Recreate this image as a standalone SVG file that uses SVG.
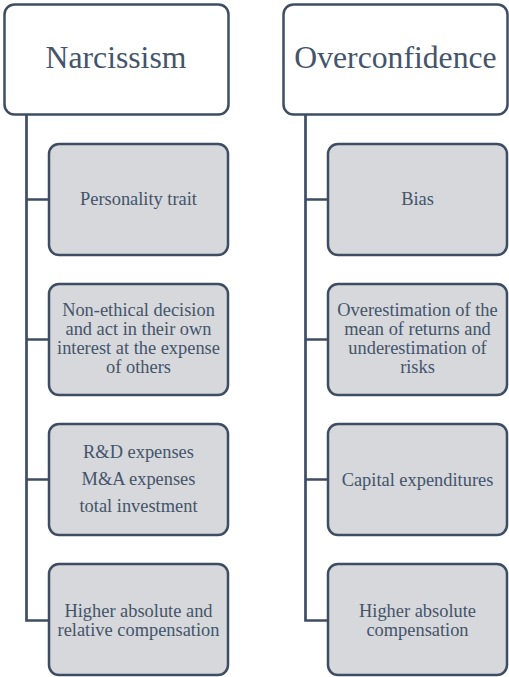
<svg xmlns="http://www.w3.org/2000/svg" width="509" height="677" viewBox="0 0 509 677">
<style>
.head{fill:#ffffff;stroke:#3f4d63;stroke-width:2.5}
.child{fill:#d6d8dc;stroke:#3f4d63;stroke-width:2.5}
.conn{fill:none;stroke:#3f4d63;stroke-width:2.7}
.lbl{fill:#44546a;text-anchor:middle}
</style>
<rect width="509" height="677" fill="#ffffff"/>
<g id="connectors">
<path class="conn" d="M26.5,114 V620.5 H48"/>
<path class="conn" d="M26.5,199.5 H48 M26.5,339.5 H48 M26.5,479.5 H48"/>
<path class="conn" d="M305.5,114 V620.5 H327"/>
<path class="conn" d="M305.5,199.5 H327 M305.5,339.5 H327 M305.5,479.5 H327"/>
</g>
<g id="narcissism">
<rect class="head" x="4.5" y="4.5" width="224" height="110" rx="10"/>
<text class="lbl" font-family="Liberation Serif" font-size="31.7" x="116" y="68">Narcissism</text>
</g>
<g id="n1">
<rect class="child" x="49" y="144" width="179" height="111" rx="10"/>
<text class="lbl" font-family="Liberation Serif" font-size="18.4" x="138.5" y="205">Personality trait</text>
</g>
<g id="n2">
<rect class="child" x="49" y="284" width="179" height="111" rx="10"/>
<text class="lbl" font-family="Liberation Serif" font-size="18.4" x="138.5" y="316">Non-ethical decision</text>
<text class="lbl" font-family="Liberation Serif" font-size="18.4" x="138.5" y="335">and act in their own</text>
<text class="lbl" font-family="Liberation Serif" font-size="18.4" x="138.5" y="354.3">interest at the expense</text>
<text class="lbl" font-family="Liberation Serif" font-size="18.4" x="138.5" y="373.3">of others</text>
</g>
<g id="n3">
<rect class="child" x="49" y="424" width="179" height="111" rx="10"/>
<text class="lbl" font-family="Liberation Serif" font-size="18.4" x="138.5" y="458.3">R&amp;D expenses</text>
<text class="lbl" font-family="Liberation Serif" font-size="18.4" x="138.5" y="485">M&amp;A expenses</text>
<text class="lbl" font-family="Liberation Serif" font-size="18.4" x="138.5" y="511.7">total investment</text>
</g>
<g id="n4">
<rect class="child" x="49" y="564" width="179" height="111" rx="10"/>
<text class="lbl" font-family="Liberation Serif" font-size="18.4" x="138.5" y="616.7">Higher absolute and</text>
<text class="lbl" font-family="Liberation Serif" font-size="18.4" x="138.5" y="635.7">relative compensation</text>
</g>
<g id="overconfidence">
<rect class="head" x="283.5" y="4.5" width="224" height="110" rx="10"/>
<text class="lbl" font-family="Liberation Serif" font-size="31.7" x="395.5" y="68">Overconfidence</text>
</g>
<g id="o1">
<rect class="child" x="328" y="144" width="179" height="111" rx="10"/>
<text class="lbl" font-family="Liberation Serif" font-size="18.4" x="417.5" y="205">Bias</text>
</g>
<g id="o2">
<rect class="child" x="328" y="284" width="179" height="111" rx="10"/>
<text class="lbl" font-family="Liberation Serif" font-size="18.4" x="417.5" y="316">Overestimation of the</text>
<text class="lbl" font-family="Liberation Serif" font-size="18.4" x="417.5" y="335">mean of returns and</text>
<text class="lbl" font-family="Liberation Serif" font-size="18.4" x="417.5" y="354.3">underestimation of</text>
<text class="lbl" font-family="Liberation Serif" font-size="18.4" x="417.5" y="373.3">risks</text>
</g>
<g id="o3">
<rect class="child" x="328" y="424" width="179" height="111" rx="10"/>
<text class="lbl" font-family="Liberation Serif" font-size="18.4" x="417.5" y="485.7">Capital expenditures</text>
</g>
<g id="o4">
<rect class="child" x="328" y="564" width="179" height="111" rx="10"/>
<text class="lbl" font-family="Liberation Serif" font-size="18.4" x="417.5" y="616.7">Higher absolute</text>
<text class="lbl" font-family="Liberation Serif" font-size="18.4" x="417.5" y="635.7">compensation</text>
</g>
</svg>
